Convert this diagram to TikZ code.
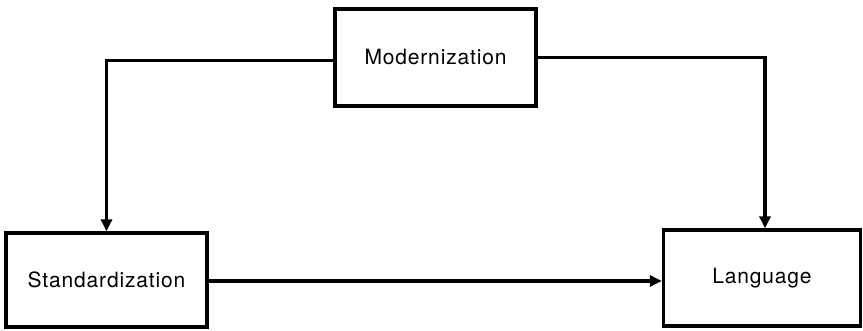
\documentclass[tikz,border=0pt]{standalone}
\usepackage{fontspec}
\setmainfont{TeX Gyre Heros}[LetterSpace=4]
\usetikzlibrary{arrows.meta}
\begin{document}
\begin{tikzpicture}[x=1pt,y=-1pt,
  box/.style={draw,line width=3.3pt,minimum width=#1,inner sep=0pt,
    font=\fontsize{21}{25}\selectfont},
  flow/.style={line width=3.3pt,-{Triangle[length=12pt,width=11pt]}}]
  \useasboundingbox (0,0) rectangle (863,331);
  % the three boxes
  \node[box=201pt,minimum height=97pt] (mod) at (435.5,57.5) {Modernization};
  \node[box=201pt,minimum height=94pt] (std) at (106.5,280) {Standardization};
  \node[box=197pt,minimum height=96pt] (lang) at (762,278) {Language};
  % connectors
  \draw[flow] ([yshift=-3pt]mod.west) -| (std.north);
  \draw[flow] (mod.east) -| ([xshift=3pt]lang.north);
  \draw[flow] ([yshift=-1pt]std.east) -- ([yshift=-3pt]lang.west);
\end{tikzpicture}
\end{document}
